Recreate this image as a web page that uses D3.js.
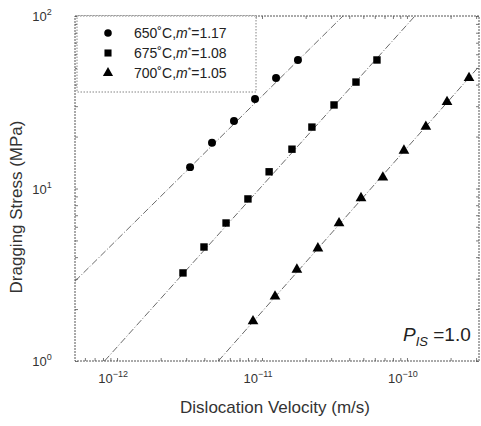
<!DOCTYPE html>
<html>
<head>
<meta charset="utf-8">
<script src="https://cdn.jsdelivr.net/npm/d3@7"></script>
<style>
  body { margin: 0; background: #fff; }
  svg { display: block; font-family: "Liberation Sans", Arial, sans-serif; }
</style>
</head>
<body>
<script>
// dislocation velocity (m/s) and dragging stress (MPa)
const v650 = [3.19e-12, 4.52e-12, 6.41e-12, 8.95e-12, 1.25e-11, 1.77e-11];
const s650 = [13.3, 18.4, 24.6, 33.0, 43.7, 55.6];

const v675 = [2.85e-12, 3.98e-12, 5.65e-12, 8.0e-12, 1.12e-11, 1.61e-11, 2.21e-11, 3.14e-11, 4.45e-11, 6.21e-11];
const s675 = [3.24, 4.58, 6.31, 8.7, 12.5, 16.9, 22.7, 30.5, 41.4, 55.6];

const v700 = [8.67e-12, 1.23e-11, 1.74e-11, 2.43e-11, 3.4e-11, 4.82e-11, 6.82e-11, 9.53e-11, 1.35e-10, 1.89e-10, 2.68e-10];
const s700 = [1.70, 2.37, 3.39, 4.5, 6.3, 8.8, 11.6, 16.6, 22.8, 31.8, 43.8];

// fitted lines: [v, stress] end points
const fit650 = [[5.13e-13, 2.9], [3.62e-11, 100]];
const fit675 = [[8.2e-13, 1], [1.135e-10, 100]];
const fit700 = [[5.0e-12, 1], [3.14e-10, 51]];

const legendLabels = ["650", "675", "700"];
const legendM = ["1.17", "1.08", "1.05"];
const xTicks = [1e-12, 1e-11, 1e-10];
const xTickExp = ["-12", "-11", "-10"];
const yTicks = [1, 10, 100];
const yTickExp = ["0", "1", "2"];

const width = 481;
const height = 426;
const pLeft = 75, pRight = 479, pTop = 16, pBottom = 361;

const svg = d3.select("body").append("svg")
  .attr("width", width)
  .attr("height", height);

svg.append("rect").attr("width", width).attr("height", height).attr("fill", "#fff");

const x = d3.scaleLog().domain([10 ** -12.29, 10 ** -9.503]).range([pLeft, pRight]);
const y = d3.scaleLog().domain([1, 100]).range([pBottom, pTop]);

const axisColor = "#555";

// frame
svg.append("rect")
  .attr("x", pLeft).attr("y", pTop)
  .attr("width", pRight - pLeft).attr("height", pBottom - pTop)
  .attr("fill", "none")
  .attr("stroke", axisColor)
  .attr("stroke-width", 1)
  .attr("stroke-dasharray", "2,1");

// minor ticks, inside
const yMinor = [];
for (let d = 1; d < 100; d *= 10) for (let k = 1; k < 10; k++) yMinor.push(d * k);
yMinor.push(100);
svg.append("g").attr("transform", `translate(${pLeft},0)`)
  .call(d3.axisRight(y).tickValues(yMinor).tickSize(3).tickFormat(""));
svg.append("g").attr("transform", `translate(${pRight},0)`)
  .call(d3.axisLeft(y).tickValues(yMinor).tickSize(3).tickFormat(""));

const xMinor = [];
for (let d = 1e-13; d < 1e-9; d *= 10) for (let k = 1; k < 10; k++) {
  const val = d * k;
  if (val >= x.domain()[0] && val <= x.domain()[1]) xMinor.push(val);
}
svg.append("g").attr("transform", `translate(0,${pBottom})`)
  .call(d3.axisTop(x).tickValues(xMinor).tickSize(3).tickFormat(""));
svg.append("g").attr("transform", `translate(0,${pTop})`)
  .call(d3.axisBottom(x).tickValues(xMinor).tickSize(3).tickFormat(""));

svg.selectAll(".domain").remove();
svg.selectAll(".tick line").attr("stroke", axisColor).attr("stroke-width", 0.8);

// tick labels
const xl = svg.selectAll(".xlab").data(xTicks).enter().append("text")
  .attr("class", "xlab")
  .attr("x", (d) => x(d) - 4)
  .attr("y", 383)
  .attr("text-anchor", "middle")
  .attr("font-size", 13)
  .attr("fill", "#333");
xl.append("tspan").text("10");
xl.append("tspan").attr("dy", -6).attr("font-size", 9).text((d, i) => "\u2212" + xTickExp[i].slice(1));

const yl = svg.selectAll(".ylab").data(yTicks).enter().append("text")
  .attr("class", "ylab")
  .attr("x", 42)
  .attr("y", (d) => y(d) + 5)
  .attr("text-anchor", "middle")
  .attr("font-size", 13)
  .attr("fill", "#333");
yl.append("tspan").text("10");
yl.append("tspan").attr("dy", -6).attr("font-size", 9).text((d, i) => yTickExp[i]);

// axis titles
svg.append("text")
  .attr("x", 275).attr("y", 413)
  .attr("text-anchor", "middle")
  .attr("font-size", 17)
  .attr("fill", "#333")
  .text("Dislocation Velocity (m/s)");

svg.append("text")
  .attr("transform", "translate(22,207) rotate(-90)")
  .attr("text-anchor", "middle")
  .attr("font-size", 17)
  .attr("fill", "#333")
  .text("Dragging Stress (MPa)");

// fitted lines
const line = d3.line().x((d) => x(d[0])).y((d) => y(d[1]));
[fit650, fit675, fit700].forEach((f) => {
  svg.append("path")
    .attr("d", line(f))
    .attr("fill", "none")
    .attr("stroke", "#444")
    .attr("stroke-width", 0.8)
    .attr("stroke-dasharray", "7,2,1,2");
});

// markers
const sym = [d3.symbolCircle, d3.symbolSquare, d3.symbolTriangle];
const symSize = [50, 55, 50];
const series = [[v650, s650], [v675, s675], [v700, s700]];
series.forEach(([vs, ss], k) => {
  svg.append("g").selectAll("path")
    .data(vs.map((v, i) => [v, ss[i]]))
    .enter().append("path")
    .attr("d", d3.symbol(sym[k], symSize[k]))
    .attr("transform", (d) => `translate(${x(d[0])},${y(d[1])})`)
    .attr("fill", "#000");
});

// legend
const lg = svg.append("g");
lg.append("rect")
  .attr("x", 77).attr("y", pTop)
  .attr("width", 179).attr("height", 76)
  .attr("fill", "#fff")
  .attr("stroke", "#666")
  .attr("stroke-width", 0.8)
  .attr("stroke-dasharray", "1.5,1.5");
legendLabels.forEach((t, i) => {
  const yy = 33 + i * 20;
  lg.append("path")
    .attr("d", d3.symbol(sym[i], symSize[i] - 5))
    .attr("transform", `translate(108,${yy})`)
    .attr("fill", "#000");
  const tx = lg.append("text")
    .attr("x", 134).attr("y", yy + 5)
    .attr("font-size", 14)
    .attr("fill", "#222");
  tx.append("tspan").text(t + "\u02da" + "C,");
  tx.append("tspan").attr("font-style", "italic").text("m");
  tx.append("tspan").attr("dy", -5).attr("font-size", 9).text("*");
  tx.append("tspan").attr("dy", 5).text("=" + legendM[i]);
});

// annotation
const ann = svg.append("text")
  .attr("x", 403).attr("y", 341)
  .attr("font-size", 19)
  .attr("fill", "#222");
ann.append("tspan").attr("font-style", "italic").text("P");
ann.append("tspan").attr("font-style", "italic").attr("font-size", 13).attr("dy", 5).text("IS");
ann.append("tspan").attr("dy", -5).text(" =1.0");
</script>
</body>
</html>
